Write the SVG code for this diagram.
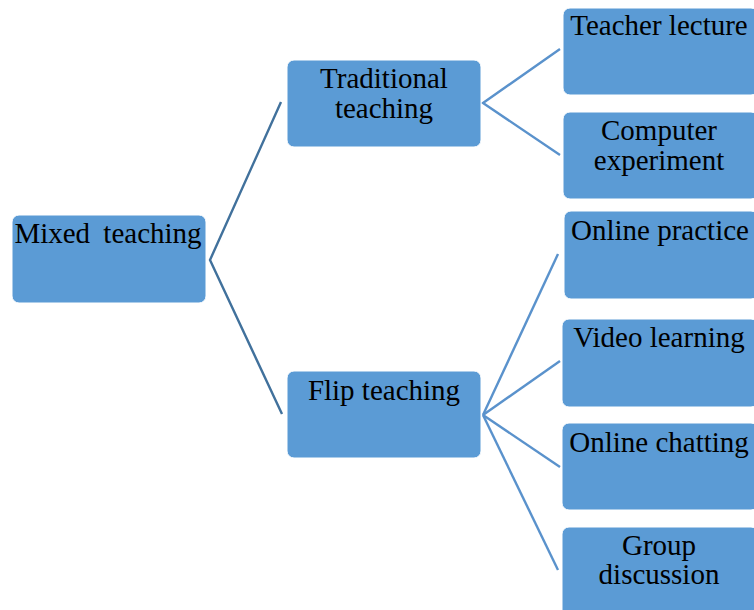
<svg xmlns="http://www.w3.org/2000/svg" width="754" height="610" viewBox="0 0 754 610">
<style>
.box{fill:#5B9BD5;stroke:#FFFFFF;stroke-width:1}
.t{font-family:"Liberation Serif","Times New Roman",serif;font-size:29px;fill:#000;text-anchor:middle}
.l1{stroke:#41719C;stroke-width:2.4;fill:none}
.l2{stroke:#5A92CC;stroke-width:2.4;fill:none}
</style>
<rect width="754" height="610" fill="#FFFFFF"/>
<g id="connectors">
<polyline class="l1" points="281,102 210,260 282,414"/>
<polyline class="l2" points="560,49 483,103 560,155"/>
<line class="l2" x1="483" y1="415" x2="558" y2="254"/>
<line class="l2" x1="483" y1="415" x2="560" y2="361"/>
<line class="l2" x1="483" y1="415" x2="560" y2="467"/>
<line class="l2" x1="483" y1="415" x2="558" y2="570"/>
</g>
<g id="mixed">
<rect class="box" x="12" y="215" width="194" height="88" rx="7"/>
<text class="t" x="108" y="243" word-spacing="6">Mixed teaching</text>
</g>
<g id="traditional">
<rect class="box" x="287" y="60" width="194" height="87" rx="7"/>
<text class="t" x="384" y="88">Traditional</text>
<text class="t" x="384" y="118">teaching</text>
</g>
<g id="flip">
<rect class="box" x="287" y="371" width="194" height="87" rx="7"/>
<text class="t" x="384" y="400">Flip teaching</text>
</g>
<g id="teacher-lecture">
<rect class="box" x="563" y="8" width="195" height="87" rx="7"/>
<text class="t" x="659" y="35">Teacher lecture</text>
</g>
<g id="computer-experiment">
<rect class="box" x="563" y="112" width="195" height="87" rx="7"/>
<text class="t" x="659" y="140">Computer</text>
<text class="t" x="659" y="170">experiment</text>
</g>
<g id="online-practice">
<rect class="box" x="564" y="211" width="194" height="88" rx="7"/>
<text class="t" x="660" y="240">Online practice</text>
</g>
<g id="video-learning">
<rect class="box" x="562" y="319" width="196" height="88" rx="7"/>
<text class="t" x="659" y="347">Video learning</text>
</g>
<g id="online-chatting">
<rect class="box" x="562" y="423" width="196" height="87" rx="7"/>
<text class="t" x="659" y="452">Online chatting</text>
</g>
<g id="group-discussion">
<rect class="box" x="562" y="527" width="196" height="90" rx="7"/>
<text class="t" x="659" y="555">Group</text>
<text class="t" x="659" y="584">discussion</text>
</g>
</svg>
